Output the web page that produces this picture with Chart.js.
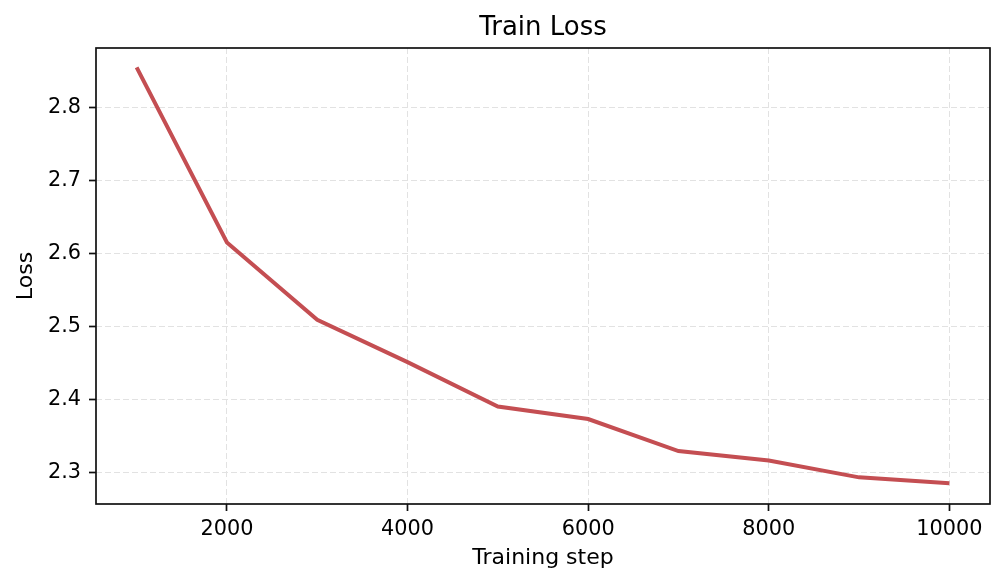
<!DOCTYPE html>
<html>
<head>
<meta charset="utf-8">
<title>Train Loss</title>
<script src="https://cdn.jsdelivr.net/npm/chart.js@4"></script>
<style>
  html, body { margin: 0; padding: 0; background: #fff; }
  #wrap { width: 1005px; height: 584px; }
</style>
</head>
<body>
<div id="wrap"><canvas id="loss-chart" width="1005" height="584"></canvas></div>
<script>
// ─── Data ───────────────────────────────────────────────────

const steps = [1000, 2000, 3000, 4000, 5000, 6000, 7000, 8000, 9000, 10000];
const trainLoss = [2.855, 2.615, 2.509, 2.451, 2.390, 2.373, 2.329, 2.316, 2.293, 2.285];

const xTicks = [2000, 4000, 6000, 8000, 10000];
const yTicks = [2.3, 2.4, 2.5, 2.6, 2.7, 2.8];

// ─── Style ──────────────────────────────────────────────────

const FONT = "'DejaVu Sans', 'Liberation Sans', sans-serif";
const LINE_RED = '#c44e52';
const GRID = '#e2e2e2';
const SPINE = '#111';

// title + axes frame (matplotlib-like spines drawn over the line)
const framePlugin = {
  id: 'frame',
  afterDatasetsDraw(chart) {
    const { ctx, chartArea: a } = chart;
    ctx.save();
    ctx.strokeStyle = SPINE;
    ctx.lineWidth = 1.7;
    ctx.strokeRect(a.left, a.top, a.right - a.left, a.bottom - a.top);
    ctx.restore();
  },
  afterDraw(chart) {
    const { ctx, chartArea: a } = chart;
    ctx.save();
    ctx.fillStyle = '#000';
    ctx.font = `26px ${FONT}`;
    ctx.textAlign = 'center';
    ctx.textBaseline = 'alphabetic';
    ctx.fillText('Train Loss', (a.left + a.right) / 2, 35);
    ctx.restore();
  },
};

const tickStyle = {
  color: GRID,
  lineWidth: 1,
  borderDash: [6, 3],
  drawTicks: true,
  tickLength: 7,
  tickWidth: 1.7,
  tickColor: SPINE,
  tickBorderDash: [],
};

new Chart(document.getElementById('loss-chart'), {
  type: 'line',
  data: {
    datasets: [{
      label: 'Train Loss',
      data: steps.map((s, i) => ({ x: s, y: trainLoss[i] })),
      borderColor: LINE_RED,
      backgroundColor: LINE_RED,
      borderWidth: 4,
      pointRadius: 0,
      tension: 0,
      borderCapStyle: 'butt',
      borderJoinStyle: 'miter',
    }],
  },
  options: {
    responsive: false,
    animation: false,
    devicePixelRatio: 1,
    layout: { padding: { top: 48, right: 15, bottom: 0, left: 0 } },
    plugins: {
      legend: { display: false },
      tooltip: { enabled: false },
      title: { display: false },
    },
    scales: {
      x: {
        type: 'linear',
        min: 550,
        max: 10450,
        afterBuildTicks: s => { s.ticks = xTicks.map(v => ({ value: v })); },
        afterFit: s => { s.height = 80; },
        grid: tickStyle,
        border: { display: false, dash: [6, 3] },
        ticks: {
          autoSkip: false,
          maxRotation: 0,
          padding: 6,
          color: '#000',
          font: { family: FONT, size: 20.8 },
          callback: v => String(v),
        },
        title: {
          display: true,
          text: 'Training step',
          color: '#000',
          font: { family: FONT, size: 22 },
          padding: { top: 0, bottom: 13 },
        },
      },
      y: {
        min: 2.2565,
        max: 2.8815,
        afterBuildTicks: s => { s.ticks = yTicks.map(v => ({ value: v })); },
        afterFit: s => { s.width = 96; },
        grid: tickStyle,
        border: { display: false, dash: [6, 3] },
        ticks: {
          autoSkip: false,
          padding: 8,
          color: '#000',
          font: { family: FONT, size: 20.8 },
          callback: v => v.toFixed(1),
        },
        title: {
          display: true,
          text: 'Loss',
          color: '#000',
          font: { family: FONT, size: 22 },
          padding: { top: 13, bottom: 0 },
        },
      },
    },
  },
  plugins: [framePlugin],
});
</script>
</body>
</html>
